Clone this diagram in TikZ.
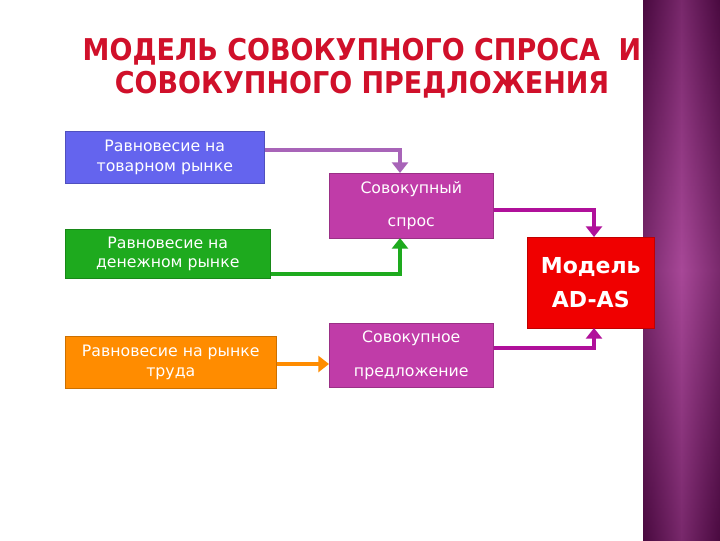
\documentclass[tikz,border=0pt]{standalone}
\usepackage{fontspec}
\setmainfont{DejaVu Sans}
\newfontfamily\titlefont{DejaVu Sans Condensed}
\usetikzlibrary{arrows.meta}
\definecolor{cblue}{HTML}{6464EE}
\definecolor{cgreen}{HTML}{1EAA1E}
\definecolor{corange}{HTML}{FF8C00}
\definecolor{cmag}{HTML}{C03CA8}
\definecolor{cred}{HTML}{F00000}
\definecolor{ctitle}{HTML}{D0102A}
\definecolor{pdark}{HTML}{4A0A40}
\definecolor{plight}{HTML}{A84898}
\definecolor{alil}{HTML}{A864B8}
\definecolor{amag}{HTML}{B0109A}
\tikzset{
  box/.style={draw=#1!80!black,fill=#1,text=white,align=center,inner sep=0pt,anchor=north west,font=\fontsize{11.8}{14.5}\selectfont},
  conn/.style={line width=3.5pt,draw=#1,-{Triangle[length=8pt,width=12pt]}},
}
\begin{document}
\begin{tikzpicture}[x=0.75pt,y=-0.75pt]
\useasboundingbox (0,0) rectangle (720,540);
\fill[white] (0,0) rectangle (720,540);
\shade[left color=pdark,right color=plight] (643,0) rectangle (682,540);
\shade[left color=plight,right color=pdark] (681,0) rectangle (720,540);
\shade[top color=pdark,bottom color=pdark,middle color=plight,opacity=0.5] (643,0) rectangle (720,540);
\node[font=\titlefont\bfseries\fontsize{22.5}{25}\selectfont,text=ctitle,align=center] (title) at (362,68) {МОДЕЛЬ СОВОКУПНОГО СПРОСА \ И\\СОВОКУПНОГО ПРЕДЛОЖЕНИЯ};
\node[box=cblue,minimum width=199*0.75pt,minimum height=52*0.75pt] (tov) at (65,131) {Равновесие на\\товарном рынке};
\node[box=cgreen,minimum width=205*0.75pt,minimum height=49*0.75pt] (den) at (65,229) {Равновесие на\\денежном рынке};
\node[box=corange,minimum width=211*0.75pt,minimum height=52*0.75pt] (tr) at (65,336) {Равновесие на рынке\\труда};
\node[box=cmag,minimum width=164*0.75pt,minimum height=65*0.75pt,font=\fontsize{11.8}{25}\selectfont] (ad) at (329,173) {Совокупный\\спрос};
\node[box=cmag,minimum width=164*0.75pt,minimum height=64*0.75pt,font=\fontsize{11.8}{25}\selectfont] (as) at (329,323) {Совокупное\\предложение};
\node[box=cred,minimum width=127*0.75pt,minimum height=91*0.75pt,font=\bfseries\fontsize{16.5}{26}\selectfont] (m) at (527,237) {Модель\\AD-AS};
\draw[conn=alil] (tov.east|-0,150) -- (400,150) -- (400,173);
\draw[conn=cgreen] (den.east|-0,274) -- (400,274) -- (400,238);
\draw[conn=corange] (tr.east|-0,364) -- (as.west|-0,364);
\draw[conn=amag] (ad.east|-0,210) -- (594,210) -- (594,237);
\draw[conn=amag] (as.east|-0,348) -- (594,348) -- (594,328);
\end{tikzpicture}
\end{document}
